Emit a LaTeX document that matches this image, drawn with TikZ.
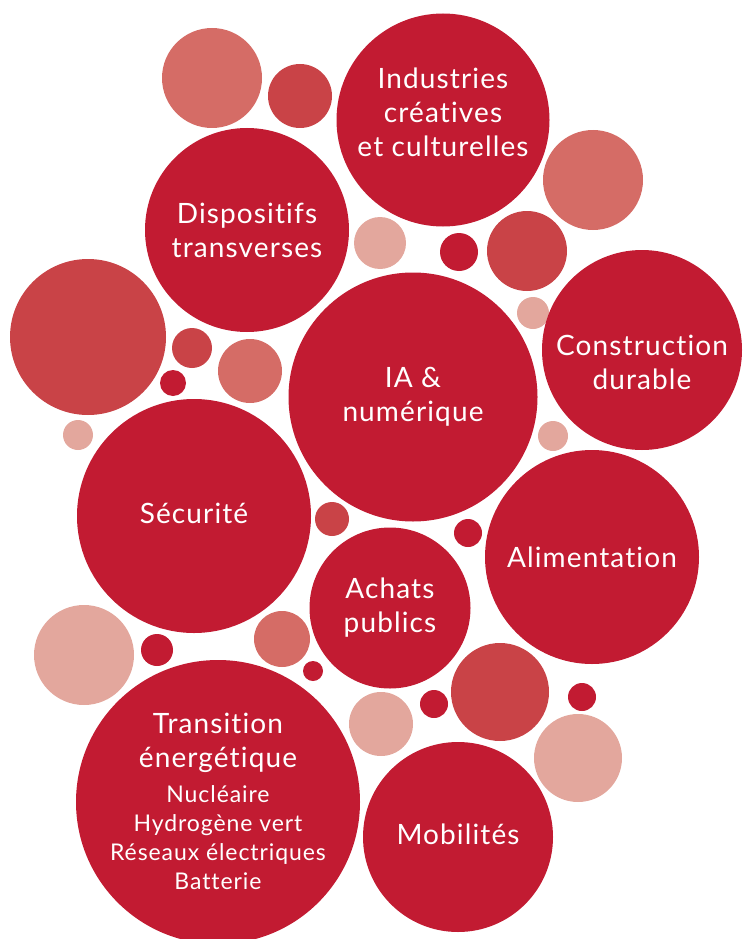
\documentclass[tikz,border=0pt]{standalone}
\usepackage{fontspec}
\setmainfont[Ligatures = NoCommon, LetterSpace = 4]{Lato}
\definecolor{bubdark}{HTML}{C21B32}
\definecolor{bubmid}{HTML}{C94347}
\definecolor{bubsalmon}{HTML}{D56C66}
\definecolor{bubpale}{HTML}{E3A79D}

\begin{document}
\begin{tikzpicture}[x = 1pt, y = -1pt,
	theme/.style = {circle, fill = bubdark, inner sep = 0pt},
	lbl/.style = {text = white, align = center, inner sep = 0pt, font = \fontsize{28}{34}\selectfont},
	sublbl/.style = {text = white, align = center, inner sep = 0pt, font = \fontsize{23}{29}\selectfont}]
	\useasboundingbox (0, 0) rectangle (742, 939);
	\fill[bubsalmon] (212, 78)  circle (50pt);
	\fill[bubmid]    (300, 96)  circle (32pt);
	\fill[bubsalmon] (593, 180) circle (50pt);
	\fill[bubpale]   (380, 243) circle (26pt);
	\fill[bubdark]   (459, 252) circle (19pt);
	\fill[bubmid]    (527, 251) circle (40pt);
	\fill[bubpale]   (533, 313) circle (16pt);
	\fill[bubmid]    (88, 337)  circle (78pt);
	\fill[bubmid]    (192, 348) circle (20pt);
	\fill[bubsalmon] (250, 371) circle (32pt);
	\fill[bubdark]   (173, 383) circle (13pt);
	\fill[bubpale]   (78, 435)  circle (15pt);
	\fill[bubpale]   (553, 436) circle (15pt);
	\fill[bubmid]    (332, 519) circle (17pt);
	\fill[bubdark]   (468, 533) circle (14pt);
	\fill[bubpale]   (84, 655)  circle (50pt);
	\fill[bubdark]   (157, 650) circle (16pt);
	\fill[bubsalmon] (282, 639) circle (28pt);
	\fill[bubdark]   (313, 671) circle (10pt);
	\fill[bubpale]   (381, 724) circle (32pt);
	\fill[bubdark]   (434, 704) circle (14pt);
	\fill[bubmid]    (500, 692) circle (49pt);
	\fill[bubdark]   (582, 697) circle (14pt);
	\fill[bubpale]   (578, 758) circle (44pt);
	\node[theme, minimum size = 213pt] (indus) at (443, 120) {};
	\node[theme, minimum size = 204pt] (dispo) at (247, 230) {};
	\node[theme, minimum size = 200pt] (constr) at (642, 350) {};
	\node[theme, minimum size = 249pt] (ia) at (413, 397) {};
	\node[theme, minimum size = 234pt] (secu) at (194, 516) {};
	\node[theme, minimum size = 214pt] (alim) at (592, 557) {};
	\node[theme, minimum size = 161pt] (achats) at (390, 608) {};
	\node[theme, minimum size = 284pt] (energie) at (218, 802) {};
	\node[theme, minimum size = 190pt] (mobil) at (458, 837) {};
	\node[lbl, yshift = 8pt] at (indus) {Industries\\créatives\\et culturelles};
	\node[lbl] at (dispo) {Dispositifs\\transverses};
	\node[lbl, yshift = -12pt] at (constr) {Construction\\durable};
	\node[lbl] at (ia) {IA \&\\numérique};
	\node[lbl, yshift = 3pt] at (secu) {Sécurité};
	\node[lbl] at (alim) {Alimentation};
	\node[lbl] at (achats) {Achats\\publics};
	\node[lbl, yshift = 3pt] at (mobil) {Mobilités};
	\node[lbl, yshift = 59pt] at (energie) {Transition\\énergétique};
	\node[sublbl, yshift = -36pt] at (energie) {Nucléaire\\Hydrogène vert\\Réseaux électriques\\Batterie};
\end{tikzpicture}
\end{document}
